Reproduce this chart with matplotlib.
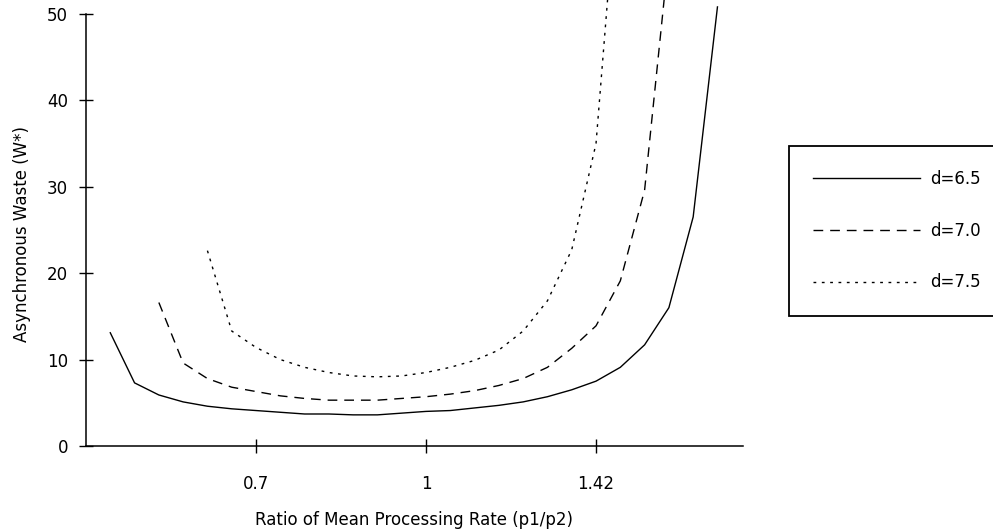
import numpy as np
import matplotlib.pyplot as plt

# category positions along the ratio axis (evenly spaced samples of p1/p2)
tick_pos = [7, 14, 21]
tick_labels = ['0.7', '1', '1.42']

# d=6.5 starts at sample 1, d=7.0 at sample 3, d=7.5 at sample 5
x_65 = np.arange(1, 27)
w_65 = [13.1, 7.3, 5.9, 5.1, 4.6, 4.3, 4.1, 3.9, 3.7, 3.7, 3.6, 3.6, 3.8,
        4.0, 4.1, 4.4, 4.7, 5.1, 5.7, 6.5, 7.5, 9.1, 11.7, 16.0, 26.5, 50.8]

x_70 = np.arange(3, 25)
w_70 = [16.6, 9.6, 7.8, 6.8, 6.3, 5.8, 5.5, 5.3, 5.3, 5.3, 5.5, 5.7, 6.0,
        6.4, 7.0, 7.8, 9.1, 11.3, 13.9, 19.1, 29.6, 57.0]

x_75 = np.arange(5, 23)
w_75 = [22.6, 13.3, 11.4, 10.0, 9.1, 8.5, 8.1, 8.0, 8.1, 8.5, 9.1, 9.9,
        11.1, 13.3, 16.8, 22.7, 35.0, 70.0]

plt.rcParams['font.family'] = 'DejaVu Sans'
plt.rcParams['font.size'] = 12

fig = plt.figure(figsize=(9.93, 5.32), dpi=100)
ax = fig.add_axes([0.0866, 0.1617, 0.6616, 0.8383])

ax.plot(x_65, w_65, color='black', lw=1.0, ls='-', label='d=6.5')
ax.plot(x_70, w_70, color='black', lw=1.0, ls=(0, (7, 5)), label='d=7.0')
ax.plot(x_75, w_75, color='black', lw=1.0, ls=(0, (2, 4)), label='d=7.5')

ax.set_xlim(0, 27.05)
ax.set_ylim(0, 51.6)
ax.set_xticks(tick_pos)
ax.set_xticklabels(tick_labels)
ax.set_yticks(range(0, 51, 10))

for side in ['top', 'right']:
    ax.spines[side].set_visible(False)
ax.spines['left'].set_bounds(0, 50)
ax.spines['left'].set_linewidth(1.1)
ax.spines['bottom'].set_linewidth(1.1)
ax.tick_params(axis='both', direction='inout', length=10, width=1, colors='black')
ax.tick_params(axis='y', pad=8)
ax.tick_params(axis='x', pad=16)

ax.set_xlabel('Ratio of Mean Processing Rate (p1/p2)', labelpad=13)
ax.set_ylabel('Asynchronous Waste (W*)')
ax.yaxis.set_label_coords(-0.083, 0.475)

leg = ax.legend(loc='upper left', bbox_to_anchor=(0.7946, 0.406, 0.215, 0.3196),
                bbox_transform=fig.transFigure, mode='expand', borderaxespad=0,
                fancybox=False, framealpha=1, edgecolor='black',
                handlelength=6.4, handletextpad=0.6, labelspacing=2.02,
                borderpad=1.45)
leg.get_frame().set_linewidth(1.3)

fig.savefig('out.png', dpi=100)
